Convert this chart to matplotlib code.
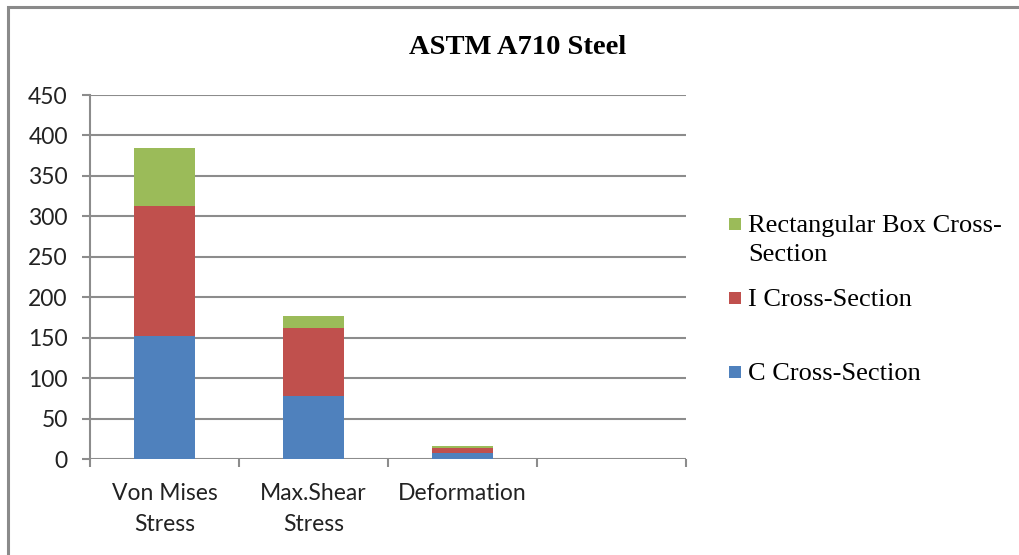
import numpy as np
import matplotlib
matplotlib.use("Agg")
import matplotlib.pyplot as plt
from matplotlib.patches import Rectangle

# Stress / deformation results per cross-section
categories = ["Von Mises\nStress", "Max.Shear\nStress", "Deformation", ""]
c_section = [152, 78, 7.5, 0]
i_section = [161, 84, 5.5, 0]
box_section = [71, 15, 3.5, 0]

series_names = ["C Cross-Section", "I Cross-Section", "Rectangular Box Cross-\nSection"]
colors = ["#4F81BD", "#C0504D", "#9BBB59"]
grid_color = "#8c8c8c"

W, H = 1019, 555
fig = plt.figure(figsize=(W / 100, H / 100), dpi=100)
ax = fig.add_axes([90 / W, 1 - 459 / H, 596 / W, 364 / H])

x = np.arange(len(categories))
bar_w = 0.41
b1 = ax.bar(x, c_section, bar_w, color=colors[0], zorder=3)
b2 = ax.bar(x, i_section, bar_w, bottom=c_section, color=colors[1], zorder=3)
bottom3 = np.array(c_section) + np.array(i_section)
b3 = ax.bar(x, box_section, bar_w, bottom=bottom3, color=colors[2], zorder=3)

ax.set_xlim(-0.5, len(categories) - 0.5)
ax.set_ylim(0, 450)
ax.set_yticks(np.arange(0, 451, 50))
ax.yaxis.grid(True, color=grid_color, linewidth=1.5)
ax.set_axisbelow(True)

for side in ["top", "right", "bottom"]:
    ax.spines[side].set_visible(False)
ax.spines["left"].set_color(grid_color)
ax.spines["left"].set_linewidth(1.5)

tick_font = {"family": ["Lato", "DejaVu Sans"], "size": 16.5}
ax.tick_params(axis="y", length=6, width=1.5, color=grid_color, pad=10,
               labelcolor="#222222")
for lab in ax.get_yticklabels():
    lab.set_fontfamily(tick_font["family"])
    lab.set_fontsize(tick_font["size"])

# category boundaries carry the tick marks, centres carry the labels
ax.set_xticks(np.arange(-0.5, len(categories), 1.0))
ax.set_xticklabels([])
ax.tick_params(axis="x", which="major", length=6, width=1.5, color=grid_color)
ax.set_xticks(x, minor=True)
ax.set_xticklabels(categories, minor=True, fontfamily=tick_font["family"],
                   fontsize=tick_font["size"], color="#222222", linespacing=1.6)
ax.tick_params(axis="x", which="minor", length=0, pad=17)

fig.text(518 / W, 1 - 47 / H, "ASTM A710 Steel", ha="center", va="center",
         fontfamily="Liberation Serif", fontweight="bold", fontsize=20.5)

# legend, top entry first
legend_rows = [(b3, series_names[2], 224), (b2, series_names[1], 298), (b1, series_names[0], 372)]
for bars, label, y in legend_rows:
    fc = bars.patches[0].get_facecolor()
    fig.patches.append(Rectangle((729 / W, 1 - (y + 6) / H), 12 / W, 12 / H,
                                 facecolor=fc, edgecolor="none",
                                 transform=fig.transFigure, figure=fig))
    fig.text(748 / W, 1 - (y - 9) / H, label, ha="left", va="top",
             fontfamily="Liberation Serif", fontsize=19, color="#000000",
             linespacing=1.4)

# outer chart frame
fig.patches.append(Rectangle((8 / W, -0.1), 1.2, 1 - 7 / H + 0.1, facecolor="none",
                             edgecolor="#8a8a8a", linewidth=2.2,
                             transform=fig.transFigure, figure=fig))

fig.savefig("out.png", dpi=100)
